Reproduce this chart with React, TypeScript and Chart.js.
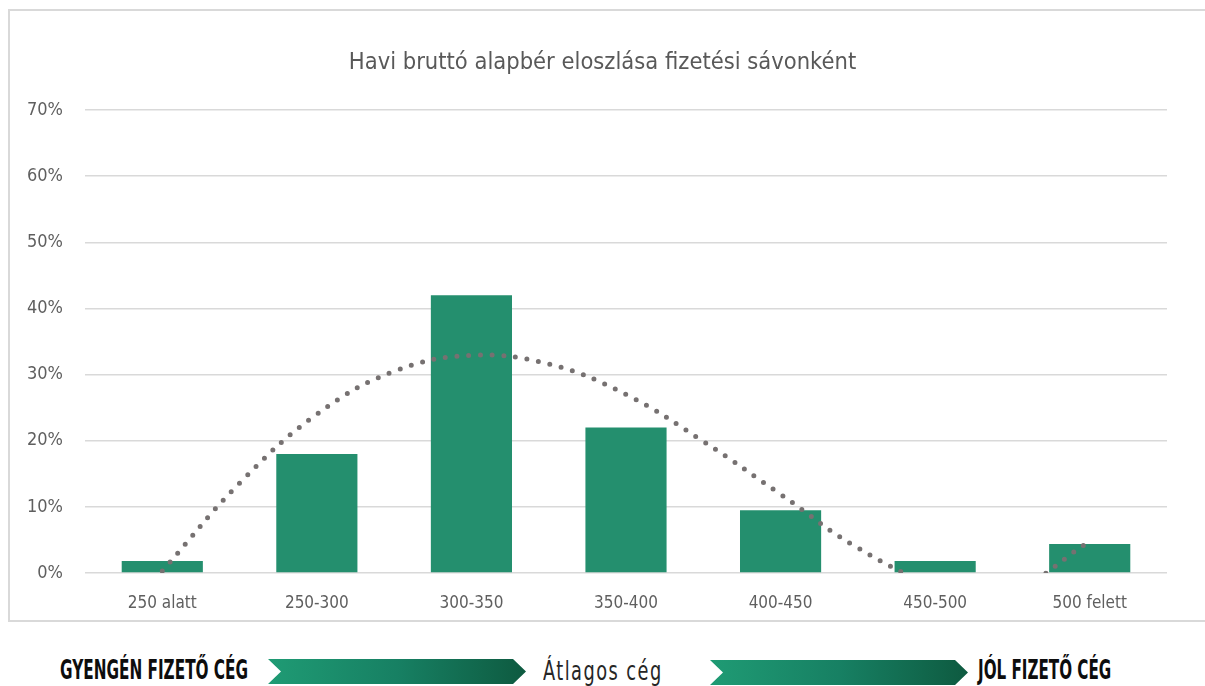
import React, { useEffect, useLayoutEffect, useRef } from "react";
import { Chart, registerables } from "chart.js";

Chart.register(...registerables);

const categories = ["250 alatt", "250-300", "300-350", "350-400", "400-450", "450-500", "500 felett"];
const shareValues = [1.8, 18, 42, 22, 9.5, 1.8, 4.4];
// trendline at half-category steps
const trendX = [0, 0.5, 1, 1.5, 2, 2.5, 3, 3.5, 4, 4.5, 5, 5.5, 6];
const trendY = [0.3, 13.6, 24.0, 30.5, 32.9, 31.6, 27.0, 19.9, 11.9, 3.8, -1.6, -2.4, 4.8];
const yTicksMax = 70;
const yTicksStep = 10;
const titleText = "Havi bruttó alapbér eloszlása fizetési sávonként";
const legendLeft = "GYENGÉN FIZETŐ CÉG";
const legendMid = "Átlagos cég";
const legendRight = "JÓL FIZETŐ CÉG";

const NARROW = "'Liberation Sans Narrow', 'DejaVu Sans Condensed', 'Roboto', sans-serif";

function ChartBox() {
  const ref = useRef<HTMLCanvasElement | null>(null);
  useEffect(() => {
    if (!ref.current) return;
    const chart = new Chart(ref.current, {
      type: "bar",
      data: {
        labels: categories,
        datasets: [
          {
            type: "line",
            label: "trend",
            data: trendX.map((x, i) => ({ x, y: trendY[i] })),
            xAxisID: "xt",
            borderColor: "#767171",
            borderWidth: 5,
            borderDash: [0, 11.7],
            borderCapStyle: "round",
            pointRadius: 0,
            tension: 0.4,
            fill: false,
            order: 0,
          } as any,
          {
            type: "bar",
            label: "share",
            data: shareValues,
            backgroundColor: "#248F6E",
            borderWidth: 0,
            grouped: false,
            barPercentage: 1,
            categoryPercentage: 0.525,
            order: 1,
          } as any,
        ],
      },
      options: {
        animation: false,
        responsive: false,
        layout: { padding: { left: 0, right: 0, top: 0, bottom: 0 } },
        plugins: {
          legend: { display: false },
          tooltip: { enabled: false },
          title: {
            display: true,
            text: titleText,
            color: "#595959",
            font: { family: NARROW, size: 23.5, weight: "normal" },
            padding: { top: 48.9, bottom: 32.9 },
          },
        },
        scales: {
          x: {
            type: "category",
            offset: true,
            grid: { display: false, drawTicks: false },
            border: { display: false },
            ticks: {
              color: "#5f5f5f",
              font: { family: NARROW, size: 17 },
              padding: 20,
              maxRotation: 0,
            },
            afterFit: (s: any) => {
              s.height = 49;
            },
          },
          xt: {
            type: "linear",
            display: false,
            min: -0.5,
            max: 6.5,
            offset: false,
          },
          y: {
            min: 0,
            max: yTicksMax,
            grid: { color: "#d9d9d9", lineWidth: 1.5, drawTicks: false },
            border: { display: false },
            ticks: {
              stepSize: yTicksStep,
              color: "#5f5f5f",
              font: { family: NARROW, size: 18 },
              padding: 22,
              callback: (v: any) => v + "%",
            },
            afterFit: (s: any) => {
              s.width = 85;
            },
          },
          yr: {
            type: "linear",
            position: "right",
            display: true,
            min: 0,
            max: yTicksMax,
            grid: { display: false, drawTicks: false },
            border: { display: false },
            ticks: { display: false },
            afterFit: (s: any) => {
              s.width = 38;
            },
          },
        },
      },
    });
    return () => chart.destroy();
  }, []);
  return (
    <canvas
      ref={ref}
      width={1205}
      height={622}
      style={{ position: "absolute", left: 0, top: 0, width: 1205, height: 622 }}
    />
  );
}

function Arrow({ left, top, width }: { left: number; top: number; width: number }) {
  return (
    <div
      style={{
        position: "absolute",
        left,
        top,
        width,
        height: 25,
        background: "linear-gradient(to right, #1f9b74 0%, #178063 50%, #0e5a40 100%)",
        clipPath: "polygon(0 0, calc(100% - 13px) 0, 100% 50%, calc(100% - 13px) 100%, 0 100%, 13px 50%)",
      }}
    />
  );
}

function FitLabel({
  left,
  cy,
  width,
  text,
  style,
}: {
  left: number;
  cy: number;
  width: number;
  text: string;
  style: React.CSSProperties;
}) {
  const ref = useRef<HTMLDivElement | null>(null);
  useLayoutEffect(() => {
    const el = ref.current;
    if (!el) return;
    el.style.transform = "none";
    const w = el.scrollWidth;
    if (w > 0) el.style.transform = `scaleX(${width / w})`;
  }, [width, text]);
  return (
    <div
      ref={ref}
      style={{
        position: "absolute",
        left,
        top: cy - 20,
        height: 40,
        lineHeight: "40px",
        whiteSpace: "nowrap",
        display: "inline-block",
        transformOrigin: "left center",
        ...style,
      }}
    >
      {text}
    </div>
  );
}

export default function App() {
  return (
    <div style={{ position: "absolute", left: 0, top: 0, width: 1205, height: 686, overflow: "hidden", background: "#fff" }}>
      <div
        style={{
          position: "absolute",
          left: 8,
          top: 9,
          width: 1220,
          height: 613,
          border: "2px solid #d9d9d9",
          boxSizing: "border-box",
        }}
      />
      <ChartBox />
      <FitLabel
        left={60}
        cy={670}
        width={188}
        text={legendLeft}
        style={{ fontFamily: NARROW, fontWeight: "bold", fontSize: 27, color: "#0d0d0d" }}
      />
      <Arrow left={268} top={659} width={258} />
      <FitLabel
        left={543}
        cy={671}
        width={120}
        text={legendMid}
        style={{ fontFamily: "'DejaVu Sans Condensed', sans-serif", fontWeight: "normal", fontSize: 27, color: "#262626", letterSpacing: 2 }}
      />
      <Arrow left={710} top={660} width={258} />
      <FitLabel
        left={978}
        cy={670}
        width={133}
        text={legendRight}
        style={{ fontFamily: NARROW, fontWeight: "bold", fontSize: 27, color: "#0d0d0d" }}
      />
    </div>
  );
}
